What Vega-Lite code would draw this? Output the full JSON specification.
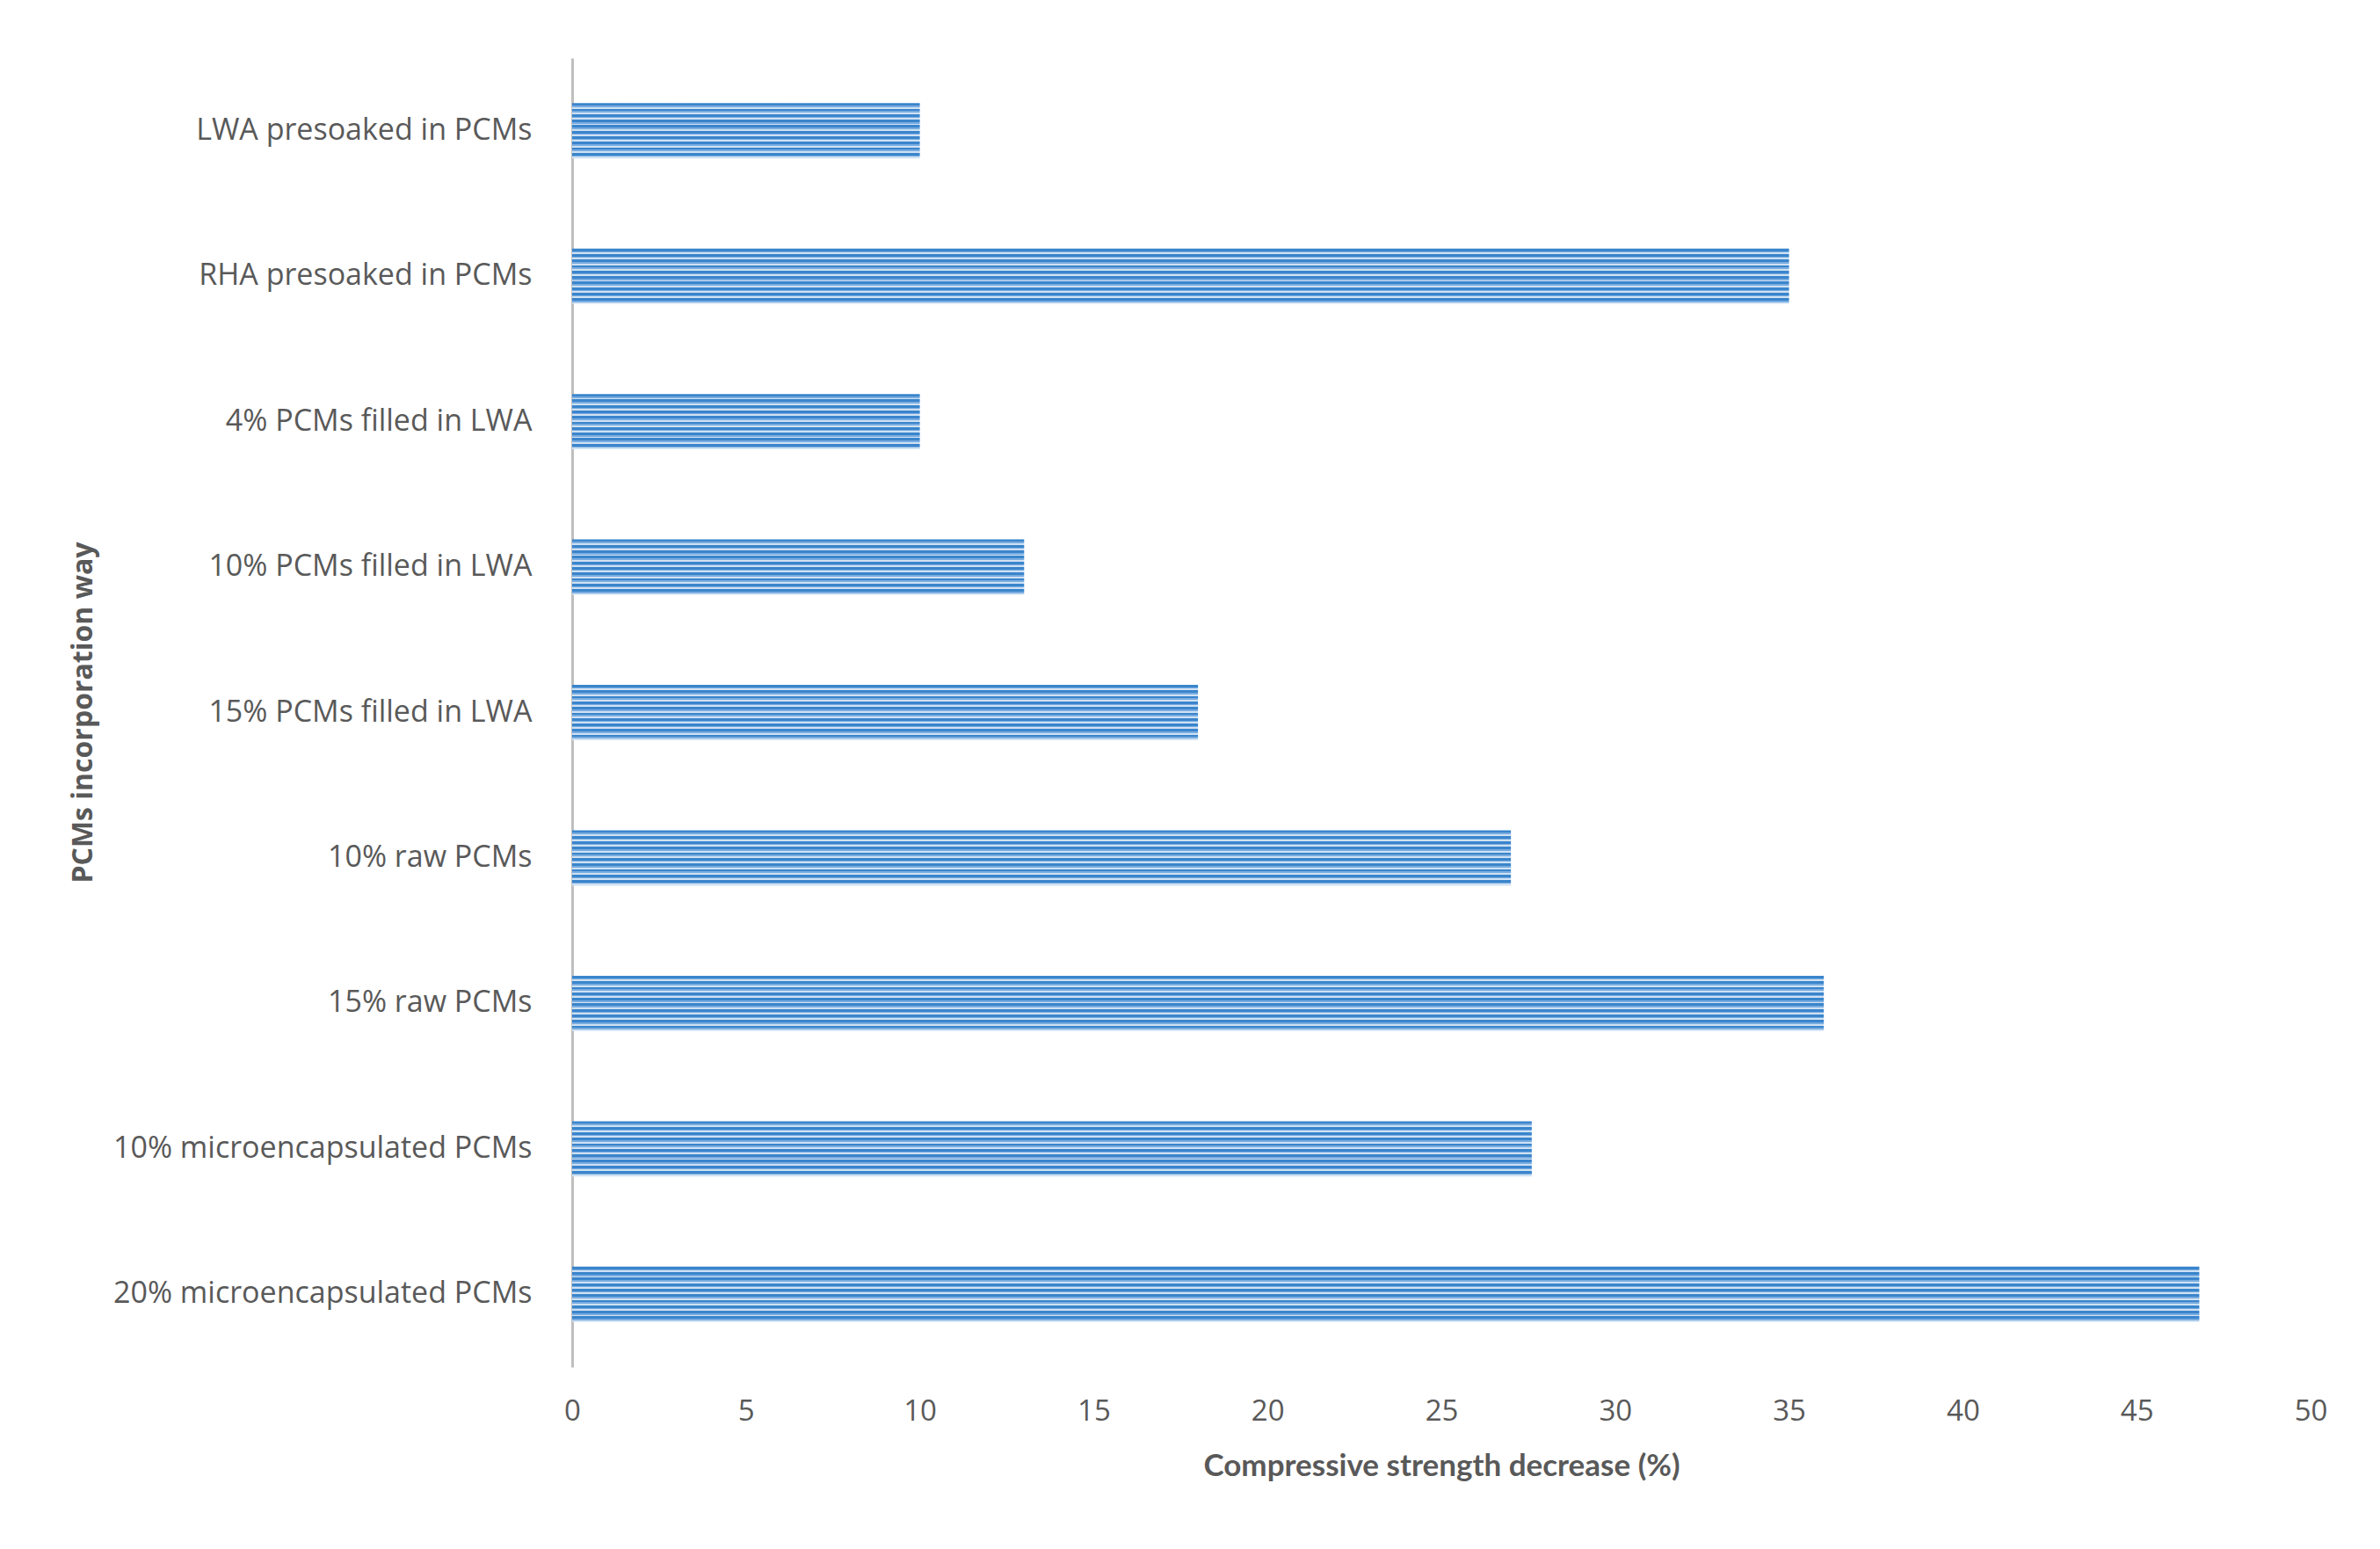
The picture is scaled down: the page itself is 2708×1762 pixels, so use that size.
{
  "$schema": "https://vega.github.io/schema/vega-lite/v6.json",
  "width": 1978,
  "height": 1489,
  "autosize": {"type": "none"},
  "padding": {"left": 651, "top": 66, "right": 79, "bottom": 207},
  "background": "white",
  "config": {"view": {"stroke": null}},
  "data": {
    "values": [
      {"way": "LWA presoaked in PCMs", "decrease": 10},
      {"way": "RHA presoaked in PCMs", "decrease": 35},
      {"way": "4% PCMs filled in LWA", "decrease": 10},
      {"way": "10% PCMs filled in LWA", "decrease": 13},
      {"way": "15% PCMs filled in LWA", "decrease": 18},
      {"way": "10% raw PCMs", "decrease": 27},
      {"way": "15% raw PCMs", "decrease": 36},
      {"way": "10% microencapsulated PCMs", "decrease": 27.6},
      {"way": "20% microencapsulated PCMs", "decrease": 46.8}
    ]
  },
  "mark": {
    "type": "bar",
    "color": {
      "gradient": "linear", "x1": 0, "y1": 0, "x2": 0, "y2": 1,
      "stops": [
        {"offset": 0, "color": "#3a85cc"}, {"offset": 0.045, "color": "#3a85cc"}, {"offset": 0.045, "color": "#79ace0"}, {"offset": 0.07, "color": "#79ace0"}, {"offset": 0.07, "color": "#cfe1f3"}, {"offset": 0.1, "color": "#cfe1f3"},
        {"offset": 0.1, "color": "#3a85cc"}, {"offset": 0.145, "color": "#3a85cc"}, {"offset": 0.145, "color": "#79ace0"}, {"offset": 0.17, "color": "#79ace0"}, {"offset": 0.17, "color": "#cfe1f3"}, {"offset": 0.2, "color": "#cfe1f3"},
        {"offset": 0.2, "color": "#3a85cc"}, {"offset": 0.245, "color": "#3a85cc"}, {"offset": 0.245, "color": "#79ace0"}, {"offset": 0.27, "color": "#79ace0"}, {"offset": 0.27, "color": "#cfe1f3"}, {"offset": 0.3, "color": "#cfe1f3"},
        {"offset": 0.3, "color": "#3a85cc"}, {"offset": 0.345, "color": "#3a85cc"}, {"offset": 0.345, "color": "#79ace0"}, {"offset": 0.37, "color": "#79ace0"}, {"offset": 0.37, "color": "#cfe1f3"}, {"offset": 0.4, "color": "#cfe1f3"},
        {"offset": 0.4, "color": "#3a85cc"}, {"offset": 0.445, "color": "#3a85cc"}, {"offset": 0.445, "color": "#79ace0"}, {"offset": 0.47, "color": "#79ace0"}, {"offset": 0.47, "color": "#cfe1f3"}, {"offset": 0.5, "color": "#cfe1f3"},
        {"offset": 0.5, "color": "#3a85cc"}, {"offset": 0.545, "color": "#3a85cc"}, {"offset": 0.545, "color": "#79ace0"}, {"offset": 0.57, "color": "#79ace0"}, {"offset": 0.57, "color": "#cfe1f3"}, {"offset": 0.6, "color": "#cfe1f3"},
        {"offset": 0.6, "color": "#3a85cc"}, {"offset": 0.645, "color": "#3a85cc"}, {"offset": 0.645, "color": "#79ace0"}, {"offset": 0.67, "color": "#79ace0"}, {"offset": 0.67, "color": "#cfe1f3"}, {"offset": 0.7, "color": "#cfe1f3"},
        {"offset": 0.7, "color": "#3a85cc"}, {"offset": 0.745, "color": "#3a85cc"}, {"offset": 0.745, "color": "#79ace0"}, {"offset": 0.77, "color": "#79ace0"}, {"offset": 0.77, "color": "#cfe1f3"}, {"offset": 0.8, "color": "#cfe1f3"},
        {"offset": 0.8, "color": "#3a85cc"}, {"offset": 0.845, "color": "#3a85cc"}, {"offset": 0.845, "color": "#79ace0"}, {"offset": 0.87, "color": "#79ace0"}, {"offset": 0.87, "color": "#cfe1f3"}, {"offset": 0.9, "color": "#cfe1f3"},
        {"offset": 0.9, "color": "#3a85cc"}, {"offset": 0.945, "color": "#3a85cc"}, {"offset": 0.945, "color": "#79ace0"}, {"offset": 0.97, "color": "#79ace0"}, {"offset": 0.97, "color": "#cfe1f3"}, {"offset": 1, "color": "#cfe1f3"}
      ]
    }
  },
  "encoding": {
    "y": {
      "field": "way",
      "type": "nominal",
      "sort": null,
      "scale": {"paddingInner": 0.62, "paddingOuter": 0.31},
      "axis": {
        "title": "PCMs incorporation way",
        "titleFont": "Open Sans",
        "titleFontWeight": "bold",
        "titleFontSize": 32,
        "titleColor": "#595959",
        "titleX": -557,
        "titleY": 744,
        "titleBaseline": "middle",
        "labelFont": "Open Sans",
        "labelFontSize": 34,
        "labelColor": "#595959",
        "labelPadding": 46,
        "labelLimit": 1000,
        "ticks": false,
        "tickSize": 0,
        "domain": true,
        "domainColor": "#bfbfbf",
        "domainWidth": 3,
        "grid": false
      }
    },
    "x": {
      "field": "decrease",
      "type": "quantitative",
      "scale": {"domain": [0, 50], "nice": false},
      "axis": {
        "title": "Compressive strength decrease (%)",
        "titleFont": "Lato",
        "titleFontWeight": "bold",
        "titleFontSize": 35,
        "titleColor": "#595959",
        "titleY": 112,
        "titleBaseline": "middle",
        "values": [0, 5, 10, 15, 20, 25, 30, 35, 40, 45, 50],
        "labelFont": "Open Sans",
        "labelFontSize": 33,
        "labelColor": "#595959",
        "labelPadding": 34,
        "labelFlush": false,
        "ticks": false,
        "tickSize": 0,
        "domain": false,
        "grid": false
      }
    }
  }
}
